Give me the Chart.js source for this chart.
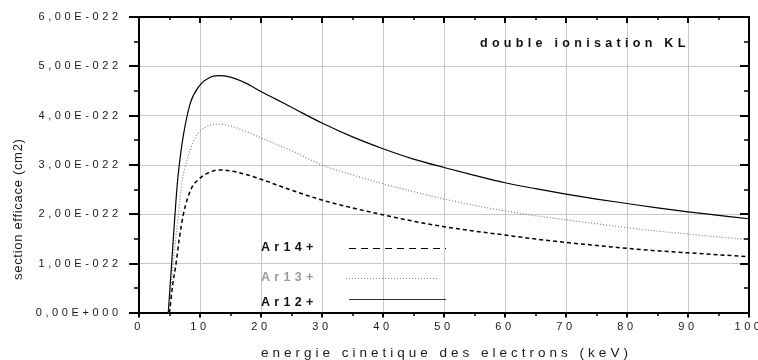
<!DOCTYPE html>
<html>
<head>
<meta charset="utf-8">
<title>double ionisation KL</title>
<script src="https://cdn.jsdelivr.net/npm/chart.js"></script>
<style>
    body { margin: 0; background: #fff; }
    .wrap {
        position: relative;
        width: 758px;
        height: 360px;
        overflow: hidden;
        font-family: "Liberation Sans", Arial, sans-serif;
        color: #111;
    }
    canvas { position: absolute; left: 0; top: 0; }
    .txt { position: absolute; white-space: nowrap; line-height: 1; }
    .title { font-size: 12.5px; font-weight: bold; letter-spacing: 4.3px; }
    .leg { font-size: 12.5px; font-weight: bold; letter-spacing: 4.3px; }
    .xt { font-size: 13.5px; letter-spacing: 4px; color: #1a1a1a; }
    .yt { font-size: 13px; letter-spacing: 0.7px; color: #1a1a1a; transform-origin: 0 0; transform: rotate(-90deg); }
</style>
</head>
<body>
<div class="wrap" id="wrap">
    <canvas id="chart" width="758" height="360"></canvas>
    <div class="txt title" style="left:480px; top:36.5px">double ionisation KL</div>
    <div class="txt xt" style="left:261px; top:345.5px">energie cinetique des electrons (keV)</div>
    <div class="txt yt" style="left:10.5px; top:280px">section efficace (cm2)</div>
</div>

<script>
    // section efficace in units of 1e-22 cm2, energy in keV
    const seriesNames = ['Ar14+', 'Ar13+', 'Ar12+'];

    const energy14 = [5.0, 5.5, 6.07, 6.6, 7.27, 8.6, 9.7, 11.5, 13.3, 15, 17.5, 20, 25, 30, 35, 40, 45, 50, 55, 60, 65, 70, 75, 80, 85, 90, 95, 100];
    const sigma14 = [0, 0.55, 1.0, 1.5, 2.0, 2.53, 2.70, 2.85, 2.90, 2.88, 2.81, 2.71, 2.49, 2.29, 2.13, 1.99, 1.86, 1.75, 1.66, 1.58, 1.50, 1.43, 1.37, 1.31, 1.26, 1.22, 1.18, 1.14];

    const energy13 = [4.9, 5.6, 6.45, 7.1, 7.6, 8.4, 9.2, 10, 11.5, 13, 15, 17.5, 20, 22.5, 25, 30, 35, 40, 45, 50, 55, 60, 65, 70, 75, 80, 85, 90, 95, 100];
    const sigma13 = [0, 1.0, 2.0, 2.7, 2.98, 3.31, 3.55, 3.68, 3.80, 3.83, 3.79, 3.68, 3.55, 3.42, 3.29, 3.0, 2.80, 2.62, 2.46, 2.31, 2.18, 2.07, 1.97, 1.89, 1.81, 1.73, 1.66, 1.60, 1.54, 1.49];

    const energy12 = [4.8, 5.35, 5.9, 6.3, 6.8, 7.3, 8.4, 10, 11.5, 13, 15, 17.5, 20, 22.5, 25, 30, 35, 40, 45, 50, 55, 60, 65, 70, 75, 80, 85, 90, 95, 100];
    const sigma12 = [0, 1.0, 2.0, 2.65, 3.2, 3.62, 4.25, 4.62, 4.77, 4.81, 4.78, 4.66, 4.49, 4.33, 4.17, 3.85, 3.57, 3.33, 3.12, 2.95, 2.79, 2.64, 2.52, 2.41, 2.31, 2.22, 2.13, 2.05, 1.98, 1.91];

    const xTicks = { min: 0, max: 100, major: 10, minor: 5 };
    const yTicks = { min: 0, max: 6, major: 1, minor: 0.5 };

    const FONT = '"Liberation Sans", Arial, sans-serif';
    const GRID = '#c8c8c8';

    const points = (xs, ys) => xs.map((v, i) => ({ x: v, y: ys[i] }));

    function fmtY(v) {
        if (v === 0) return '0,00E+000';
        return v.toFixed(2).replace('.', ',') + 'E-022';
    }

    // legend rows: text top, sample line y and x range (pixels)
    const legendRows = [
        { ds: 0, top: 241, color: '#111', y: 248.5, x0: 349, x1: 446, dash: [7, 5], width: 1, line: '#000' },
        { ds: 1, top: 270.5, color: '#999', y: 278.5, x0: 346, x1: 438, dash: [1, 2], width: 1, line: '#888' },
        { ds: 2, top: 296, color: '#111', y: 299.5, x0: 349, x1: 446, dash: [], width: 1, line: '#333' }
    ];

    const wrap = document.getElementById('wrap');
    legendRows.forEach(r => {
        const d = document.createElement('div');
        d.className = 'txt leg';
        d.style.left = '261px';
        d.style.top = r.top + 'px';
        d.style.color = r.color;
        d.textContent = seriesNames[r.ds];
        wrap.appendChild(d);
    });

    // frame, inward/outward tick marks and legend samples
    const framePlugin = {
        id: 'frame',
        beforeDraw(chart) {
            chart.ctx.letterSpacing = '3.6px';
        },
        afterDraw(chart) {
            const { ctx, chartArea: a, scales: { x, y } } = chart;
            ctx.save();
            ctx.letterSpacing = '0px';
            ctx.strokeStyle = '#000';
            ctx.lineWidth = 2;
            ctx.beginPath();
            ctx.moveTo(a.left - 1, a.top);
            ctx.lineTo(a.right, a.top);
            ctx.lineTo(a.right, a.bottom + 1);
            ctx.stroke();

            for (let v = xTicks.min; v <= xTicks.max; v += xTicks.minor) {
                const px = Math.round(x.getPixelForValue(v));
                const major = v % xTicks.major === 0;
                ctx.lineWidth = major ? 2 : 1.5;
                ctx.beginPath();
                ctx.moveTo(px, a.bottom);
                ctx.lineTo(px, a.bottom + (major ? 4.5 : 3));
                ctx.moveTo(px, a.top);
                ctx.lineTo(px, a.top + (major ? 6 : 3));
                ctx.stroke();
            }
            for (let v = yTicks.min; v <= yTicks.max + 1e-9; v += yTicks.minor) {
                const py = Math.round(y.getPixelForValue(v));
                const major = Math.abs(v - Math.round(v)) < 1e-9;
                ctx.lineWidth = major ? 2 : 1.5;
                ctx.beginPath();
                ctx.moveTo(a.left - (major ? 10 : 5), py);
                ctx.lineTo(a.left, py);
                ctx.moveTo(a.right - (major ? 9 : 5), py);
                ctx.lineTo(a.right, py);
                ctx.stroke();
            }

            legendRows.forEach(r => {
                ctx.strokeStyle = r.line;
                ctx.lineWidth = r.width;
                ctx.setLineDash(r.dash);
                ctx.beginPath();
                ctx.moveTo(r.x0, r.y);
                ctx.lineTo(r.x1, r.y);
                ctx.stroke();
            });
            ctx.restore();
        }
    };

    new Chart(document.getElementById('chart').getContext('2d'), {
        type: 'line',
        data: {
            datasets: [
                { label: seriesNames[0], data: points(energy14, sigma14), borderColor: '#000', borderWidth: 1.5, borderDash: [4, 3] },
                { label: seriesNames[1], data: points(energy13, sigma13), borderColor: '#808080', borderWidth: 1.2, borderDash: [1, 2] },
                { label: seriesNames[2], data: points(energy12, sigma12), borderColor: '#000', borderWidth: 1.2 }
            ]
        },
        options: {
            responsive: false,
            animation: false,
            events: [],
            layout: { padding: { top: 17, right: 9, left: 0, bottom: 0 } },
            elements: {
                point: { radius: 0 },
                line: { cubicInterpolationMode: 'monotone', fill: false }
            },
            plugins: { legend: { display: false }, tooltip: { enabled: false } },
            scales: {
                x: {
                    type: 'linear',
                    min: xTicks.min,
                    max: xTicks.max,
                    grid: { color: GRID, lineWidth: 1, drawTicks: false },
                    border: { color: '#000', width: 2 },
                    ticks: {
                        stepSize: xTicks.major, autoSkip: false, maxRotation: 0, padding: 7.5,
                        color: '#1a1a1a', font: { family: FONT, size: 11 }
                    },
                    afterFit(s) { s.height = 47; s.paddingLeft = 0; s.paddingRight = 0; }
                },
                y: {
                    min: yTicks.min,
                    max: yTicks.max,
                    grid: { color: GRID, lineWidth: 1, drawTicks: false },
                    border: { color: '#000', width: 2 },
                    ticks: {
                        stepSize: yTicks.major, padding: 17.4, callback: fmtY,
                        color: '#1a1a1a', font: { family: FONT, size: 11 }
                    },
                    afterFit(s) { s.width = 139; s.paddingTop = 0; s.paddingBottom = 0; }
                }
            }
        },
        plugins: [framePlugin]
    });
</script>
</body>
</html>
